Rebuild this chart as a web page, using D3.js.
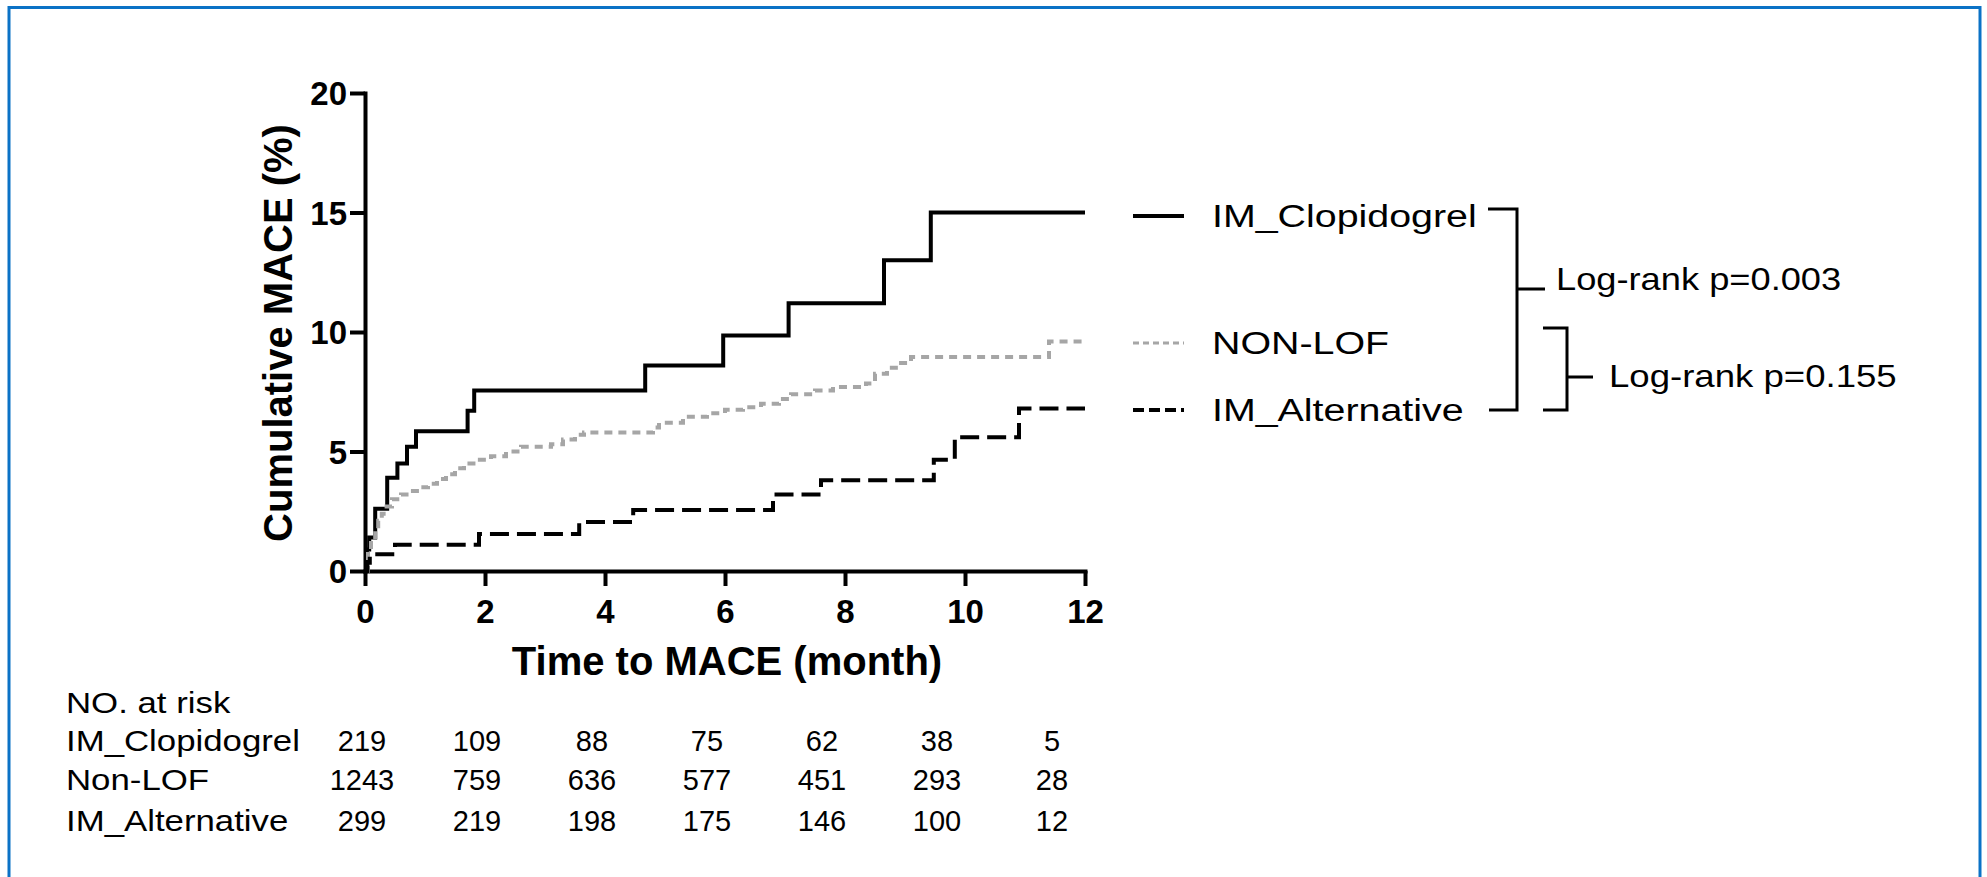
<!DOCTYPE html>
<meta charset="utf-8">
<script src="https://d3js.org/d3.v7.min.js"></script>
<style>
  body { margin: 0; background: #fff; }
  text { font-family: "Liberation Sans", Arial, sans-serif; }
</style>
<body>
<div id="chart"></div>
<script>
// values
const months = [0, 2, 4, 6, 8, 10, 12];
const yTicks = [0, 5, 10, 15, 20];
const groups = ["IM_Clopidogrel", "NON-LOF", "IM_Alternative"];

// [month, cumulative MACE %] step points
const clopidogrel = [[0,0],[0.03,0.9],[0.07,1.4],[0.17,2.6],[0.37,3.9],[0.54,4.5],[0.7,5.2],[0.85,5.85],
  [1.71,6.7],[1.82,7.55],[4.67,8.6],[5.97,9.85],[7.06,11.2],[8.65,13.0],[9.43,15.0],[12,15.0]];
const nonLof = [[0,0],[0.05,0.8],[0.1,1.3],[0.17,1.7],[0.22,2.1],[0.28,2.4],[0.36,2.7],[0.45,3.0],[0.6,3.2],
  [0.75,3.35],[0.9,3.5],[1.05,3.65],[1.2,3.85],[1.35,4.05],[1.5,4.3],[1.65,4.5],[1.85,4.65],[2.1,4.8],
  [2.35,5.0],[2.6,5.2],[3.1,5.3],[3.3,5.5],[3.5,5.7],[3.65,5.8],[4.8,6.0],[4.9,6.2],[5.3,6.45],[5.7,6.6],
  [6.0,6.75],[6.3,6.85],[6.6,7.0],[6.9,7.2],[7.1,7.4],[7.5,7.55],[7.8,7.7],[8.35,7.85],[8.5,8.25],
  [8.7,8.5],[8.9,8.7],[9.1,8.95],[11.4,9.6],[12,9.6]];
const alternative = [[0,0],[0.04,0.35],[0.08,0.7],[0.5,1.1],[1.9,1.55],[3.57,2.05],[4.47,2.55],[6.8,3.2],
  [7.6,3.8],[9.48,4.65],[9.83,5.6],[10.9,6.8],[12,6.8]];

const pValues = ["Log-rank p=0.003", "Log-rank p=0.155"];

const riskLabels = ["IM_Clopidogrel", "Non-LOF", "IM_Alternative"];
const riskClopidogrel = [219, 109, 88, 75, 62, 38, 5];
const riskNonLof = [1243, 759, 636, 577, 451, 293, 28];
const riskAlternative = [299, 219, 198, 175, 146, 100, 12];

const W = 1987, H = 877;

const svg = d3.select("#chart").append("svg")
  .attr("width", W).attr("height", H);

// blue frame
svg.append("rect")
  .attr("x", 9).attr("y", 7.5).attr("width", 1971).attr("height", 900)
  .attr("fill", "none").attr("stroke", "#0b72c6").attr("stroke-width", 3);

const x = d3.scaleLinear().domain([0, 12]).range([365, 1085]);
const y = d3.scaleLinear().domain([0, 20]).range([571, 93]);

// axes
const xAxis = svg.append("g")
  .attr("transform", `translate(0,${y(0)})`)
  .call(d3.axisBottom(x).tickValues(months).tickSize(15).tickSizeOuter(0).tickPadding(14));
const yAxis = svg.append("g")
  .attr("transform", `translate(${x(0)},0)`)
  .call(d3.axisLeft(y).tickValues(yTicks).tickSize(15).tickSizeOuter(0).tickPadding(3));

[xAxis, yAxis].forEach(a => {
  a.select(".domain").attr("stroke-width", 4).attr("stroke-linecap", "square");
  a.selectAll(".tick line").attr("stroke-width", 4);
  a.selectAll(".tick text")
    .attr("font-size", 33).attr("font-weight", "bold").attr("fill", "#000")
    .attr("font-family", '"Liberation Sans", Arial, sans-serif');
});
yAxis.selectAll(".tick text").attr("dy", "0.36em");
xAxis.selectAll(".tick text").attr("dy", "0.71em");

// axis titles
svg.append("text")
  .attr("transform", `translate(292,333) rotate(-90)`)
  .attr("text-anchor", "middle").attr("font-size", 40).attr("font-weight", "bold")
  .text("Cumulative MACE (%)");
svg.append("text")
  .attr("x", 727).attr("y", 675)
  .attr("text-anchor", "middle").attr("font-size", 40).attr("font-weight", "bold")
  .text("Time to MACE (month)");

// curves
const line = d3.line().x(d => x(d[0])).y(d => y(d[1])).curve(d3.curveStepAfter);
const styles = [
  { data: clopidogrel, color: "#000", dash: null },
  { data: nonLof, color: "#a6a6a6", dash: "8,6" },
  { data: alternative, color: "#000", dash: "19,8" }
];
styles.forEach(s => {
  svg.append("path")
    .attr("d", line(s.data))
    .attr("fill", "none")
    .attr("stroke", s.color)
    .attr("stroke-width", 4)
    .attr("stroke-linejoin", "miter")
    .attr("stroke-dasharray", s.dash);
});

// legend
function stretched(str, tx, ty, size, sx) {
  return svg.append("text")
    .attr("transform", `translate(${tx},${ty}) scale(${sx},1)`)
    .attr("font-size", size).attr("fill", "#000").text(str);
}
const legendY = [216, 343, 410];
const legendDash = [null, "6,4", "11,5"];
groups.forEach((g, i) => {
  svg.append("line")
    .attr("x1", 1133).attr("x2", 1184).attr("y1", legendY[i]).attr("y2", legendY[i])
    .attr("stroke", styles[i].color).attr("stroke-width", i === 1 ? 3 : 4)
    .attr("stroke-dasharray", legendDash[i]);
  stretched(g, 1212, legendY[i] + 11, 31, 1.27);
});

// log-rank brackets
const br = d3.path();
br.moveTo(1488, 209); br.lineTo(1517, 209); br.lineTo(1517, 410); br.lineTo(1489, 410);
br.moveTo(1517, 289); br.lineTo(1545, 289);
br.moveTo(1543, 328); br.lineTo(1567, 328); br.lineTo(1567, 410); br.lineTo(1543, 410);
br.moveTo(1567, 377); br.lineTo(1593, 377);
svg.append("path").attr("d", br.toString())
  .attr("fill", "none").attr("stroke", "#000").attr("stroke-width", 3);

stretched(pValues[0], 1556, 290, 31, 1.17);
stretched(pValues[1], 1609, 387, 31, 1.18);

// numbers at risk
const tableX = d3.scaleLinear().domain([0, 12]).range([362, 1052]);
const rowY = [751, 790, 831];
stretched("NO. at risk", 66, 713, 29, 1.2);
[riskClopidogrel, riskNonLof, riskAlternative].forEach((row, i) => {
  stretched(riskLabels[i], 66, rowY[i], 29, 1.2);
  svg.selectAll(null).data(row).join("text")
    .attr("x", (d, j) => tableX(months[j]))
    .attr("y", rowY[i])
    .attr("text-anchor", "middle")
    .attr("font-size", 29)
    .text(d => d);
});
</script>
</body>
